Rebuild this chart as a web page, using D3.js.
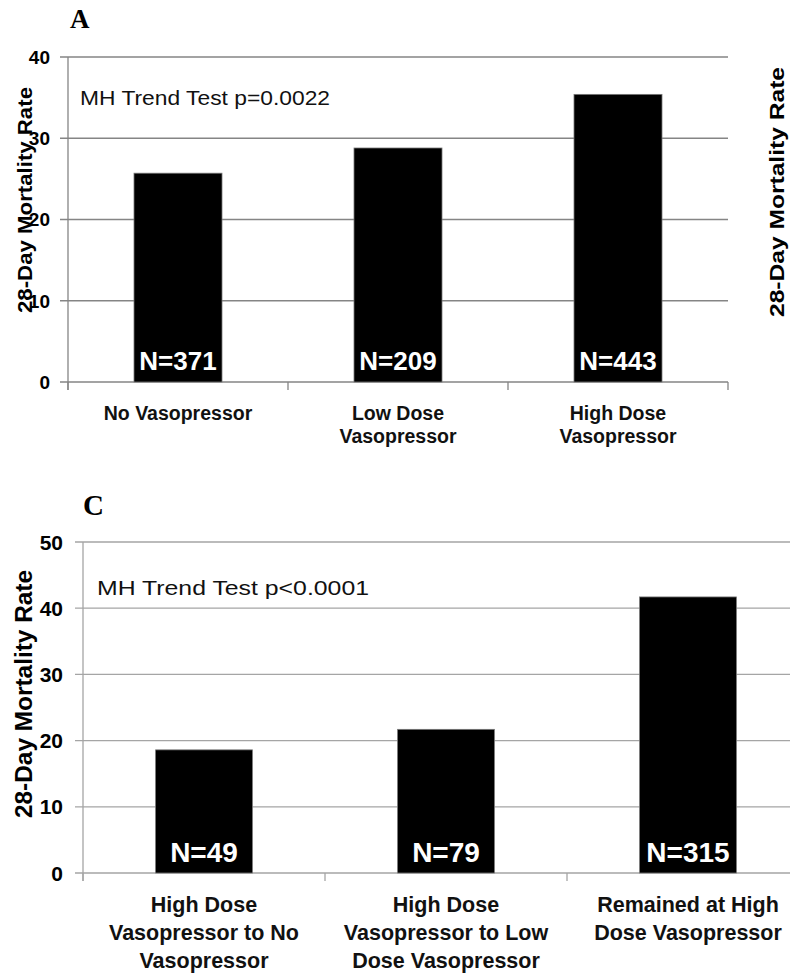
<!DOCTYPE html>
<html>
<head>
<meta charset="utf-8">
<script src="https://cdn.jsdelivr.net/npm/d3@7"></script>
<style>
  body { margin: 0; background: #fff; }
  svg { display: block; }
  .tick-lab { font-family: "Liberation Sans", Arial, sans-serif; font-weight: bold; }
  .cat-lab { font-family: "Liberation Sans", Arial, sans-serif; font-weight: bold; fill: #111; }
  .panel-lab { font-family: "Liberation Serif", "Times New Roman", serif; font-weight: bold; }
</style>
</head>
<body>
<svg id="chart" width="790" height="973"></svg>
<script>
// panel A data
var catsA = ["No Vasopressor", "Low Dose Vasopressor", "High Dose Vasopressor"];
var linesA = [["No Vasopressor"], ["Low Dose", "Vasopressor"], ["High Dose", "Vasopressor"]];
var valsA = [25.7, 28.8, 35.4];
var nA = [371, 209, 443];
var ticksA = [0, 10, 20, 30, 40];

// panel C data
var catsC = ["High Dose Vasopressor to No Vasopressor", "High Dose Vasopressor to Low Dose Vasopressor", "Remained at High Dose Vasopressor"];
var linesC = [["High Dose", "Vasopressor to No", "Vasopressor"],
              ["High Dose", "Vasopressor to Low", "Dose Vasopressor"],
              ["Remained at High", "Dose Vasopressor"]];
var valsC = [18.6, 21.7, 41.7];
var nC = [49, 79, 315];
var ticksC = [0, 10, 20, 30, 40, 50];

var yLabel = "28-Day Mortality Rate";

var svg = d3.select('#chart');

// draw one bar panel
function drawPanel(opt) {
  let g = svg.append('g');

  let x = d3.scaleBand()
            .domain(opt.cats)
            .range([opt.left, opt.right])
            .paddingInner(0.6)
            .paddingOuter(0.3);
  let y = d3.scaleLinear()
            .domain([0, d3.max(opt.ticks)])
            .range([opt.bottom, opt.top]);

  // gridlines
  g.selectAll('.grid')
    .data(opt.ticks)
    .enter().append('line')
    .attr('x1', opt.left - opt.tickLen).attr('x2', opt.right)
    .attr('y1', d => y(d)).attr('y2', d => y(d))
    .attr('stroke', opt.gridColor)
    .attr('stroke-width', 1.3);

  // y axis line
  g.append('line')
    .attr('x1', opt.left).attr('x2', opt.left)
    .attr('y1', y(d3.max(opt.ticks))).attr('y2', opt.bottom + opt.tickLen)
    .attr('stroke', opt.gridColor).attr('stroke-width', 1.3);

  // x ticks at band edges
  let edges = d3.range(opt.cats.length + 1).map(i => opt.left + i * x.step());
  g.selectAll('.xt')
    .data(edges)
    .enter().append('line')
    .attr('x1', d => d).attr('x2', d => d)
    .attr('y1', opt.bottom).attr('y2', opt.bottom + opt.tickLen)
    .attr('stroke', opt.gridColor).attr('stroke-width', 1.3);

  // y axis title (drawn under the tick labels, as in the source)
  g.append('text')
    .attr('class', 'tick-lab')
    .attr('transform', `translate(${opt.titleX},${opt.titleY}) rotate(-90)`)
    .attr('text-anchor', 'middle')
    .attr('textLength', opt.titleW)
    .attr('lengthAdjust', 'spacingAndGlyphs')
    .style('font-size', opt.titleFont + 'px')
    .text(yLabel);

  // y tick labels
  g.selectAll('.yl')
    .data(opt.ticks)
    .enter().append('text')
    .attr('class', 'tick-lab')
    .attr('x', opt.left - opt.tickLen - opt.labGap)
    .attr('y', d => y(d))
    .attr('dy', '0.36em')
    .attr('text-anchor', 'end')
    .style('font-size', opt.tickFont + 'px')
    .text(d => d);

  // bars
  g.selectAll('.bar')
    .data(opt.vals)
    .enter().append('rect')
    .attr('x', (d, i) => x(opt.cats[i]))
    .attr('y', d => y(d))
    .attr('width', x.bandwidth())
    .attr('height', d => y(0) - y(d))
    .attr('fill', '#000')
    .attr('stroke', '#777')
    .attr('stroke-width', 0.8);

  // N labels inside bars
  g.selectAll('.nlab')
    .data(opt.ns)
    .enter().append('text')
    .attr('class', 'tick-lab')
    .attr('x', (d, i) => x(opt.cats[i]) + x.bandwidth() / 2)
    .attr('y', opt.bottom - opt.nOffset)
    .attr('text-anchor', 'middle')
    .attr('fill', '#fff')
    .style('font-size', opt.nFont + 'px')
    .text(d => 'N=' + d);

  // category labels
  opt.lines.forEach(function(lines, i) {
    let cx = x(opt.cats[i]) + x.bandwidth() / 2;
    lines.forEach(function(s, j) {
      g.append('text')
        .attr('class', 'cat-lab')
        .attr('x', cx)
        .attr('y', opt.catY + j * opt.catLine)
        .attr('text-anchor', 'middle')
        .style('font-size', opt.catFont + 'px')
        .text(s);
    });
  });

  // trend test note
  g.append('text')
    .attr('x', opt.noteX)
    .attr('y', opt.noteY)
    .attr('textLength', opt.noteW)
    .attr('lengthAdjust', 'spacingAndGlyphs')
    .style('font-family', '"Liberation Sans", Arial, sans-serif')
    .style('font-size', opt.noteFont + 'px')
    .attr('fill', '#111')
    .text(opt.note);

  // panel letter
  g.append('text')
    .attr('class', 'panel-lab')
    .attr('x', opt.letterX)
    .attr('y', opt.letterY)
    .style('font-size', opt.letterFont + 'px')
    .text(opt.letter);
}

drawPanel({
  cats: catsA, lines: linesA, vals: valsA, ns: nA, ticks: ticksA,
  left: 68, right: 728, top: 57, bottom: 382, tickLen: 8, labGap: 10,
  gridColor: '#858585', tickFont: 19, nFont: 26, nOffset: 12,
  catY: 420, catLine: 23, catFont: 19.5,
  note: 'MH Trend Test p=0.0022', noteX: 80, noteY: 105, noteW: 250, noteFont: 21,
  titleX: 32, titleY: 200, titleW: 226, titleFont: 21,
  letter: 'A', letterX: 70, letterY: 28, letterFont: 27
});

drawPanel({
  cats: catsC, lines: linesC, vals: valsC, ns: nC, ticks: ticksC,
  left: 83, right: 809, top: 542, bottom: 873, tickLen: 8, labGap: 12,
  gridColor: '#a5a5a5', tickFont: 21, nFont: 28, nOffset: 11,
  catY: 912, catLine: 28, catFont: 21.5,
  note: 'MH Trend Test p<0.0001', noteX: 97, noteY: 595, noteW: 272, noteFont: 21,
  titleX: 32, titleY: 694, titleW: 248, titleFont: 23,
  letter: 'C', letterX: 83, letterY: 515, letterFont: 29
});

// y title of panel B, at the right edge
svg.append('text')
  .attr('class', 'tick-lab')
  .attr('transform', 'translate(784,192) rotate(-90)')
  .attr('text-anchor', 'middle')
  .attr('textLength', 250)
  .attr('lengthAdjust', 'spacingAndGlyphs')
  .style('font-size', '21px')
  .text(yLabel);
</script>
</body>
</html>
